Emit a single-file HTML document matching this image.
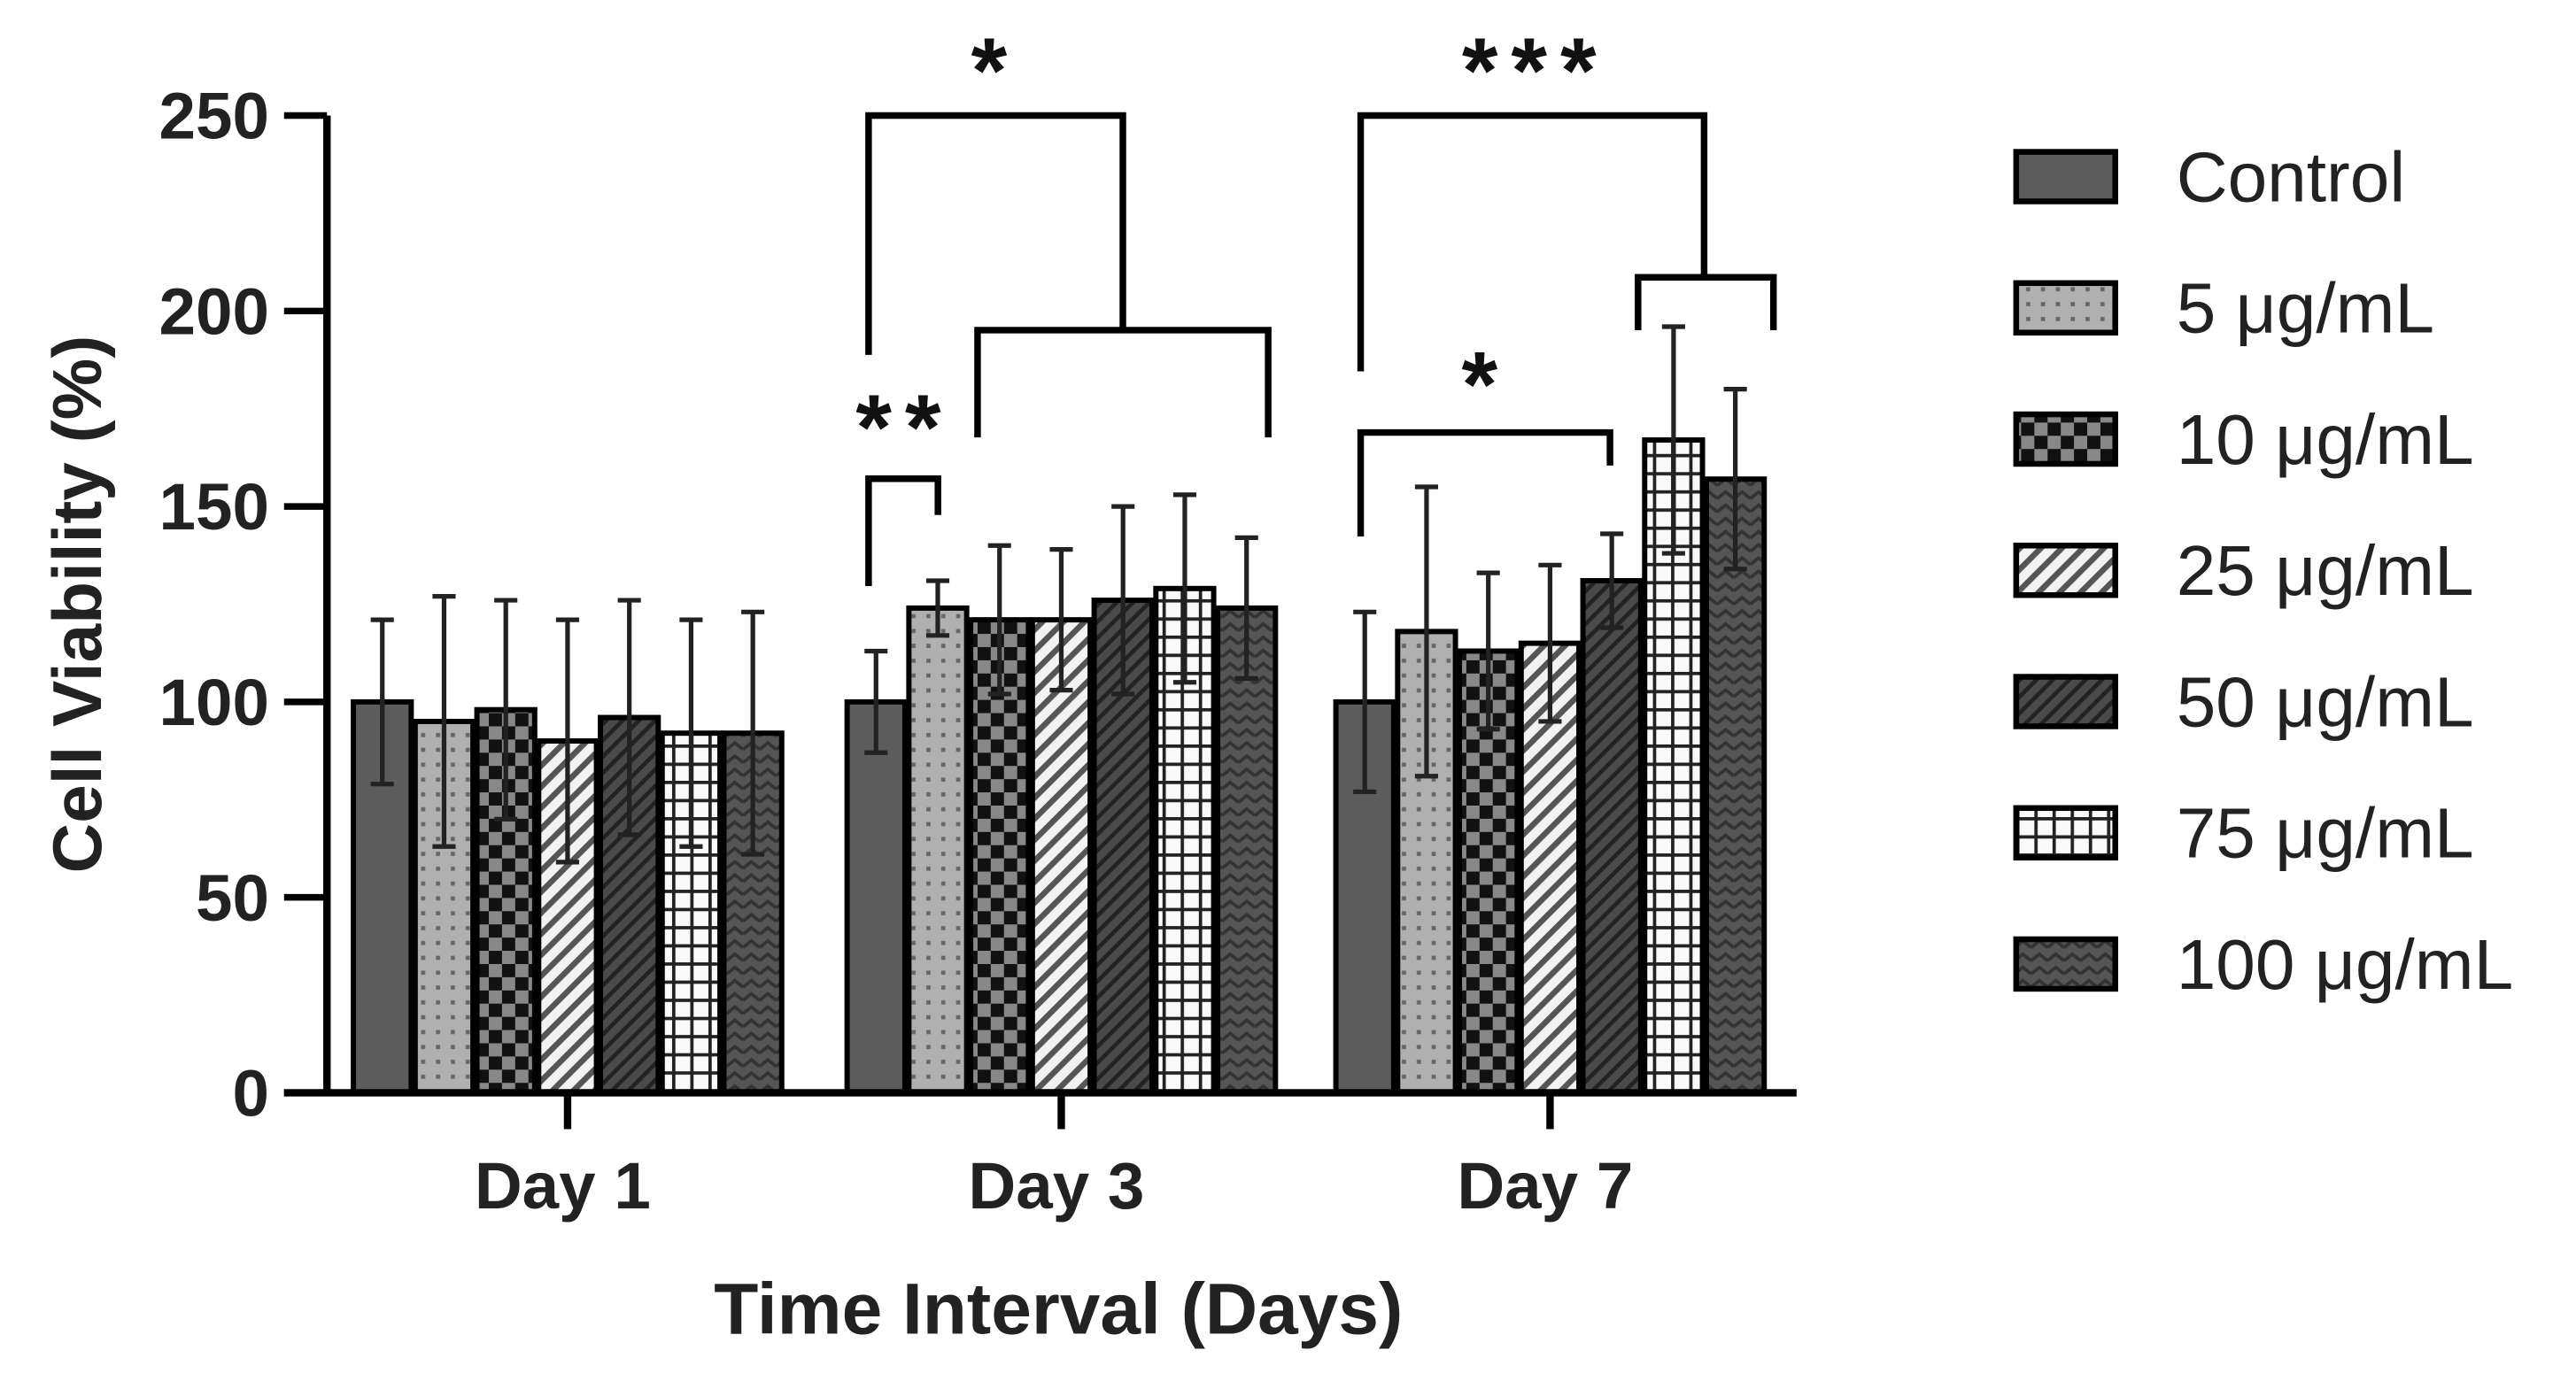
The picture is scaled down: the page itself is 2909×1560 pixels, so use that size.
<!DOCTYPE html>
<html><head><meta charset="utf-8"><style>
html,body{margin:0;padding:0;background:#fff;}
svg{display:block;}
text{font-family:"Liberation Sans",Arial,sans-serif;}
</style></head><body>
<svg id="chart" width="2909" height="1560" viewBox="0 0 1560 836.6" xmlns="http://www.w3.org/2000/svg">
<defs>
<pattern id="p0" width="8" height="8" patternUnits="userSpaceOnUse"><rect width="8" height="8" fill="#5c5c5c"/></pattern>
<pattern id="p1" width="9" height="9" patternUnits="userSpaceOnUse"><rect width="9" height="9" fill="#b0b0b0"/><rect x="3" y="3" width="2.5" height="2.5" fill="#666"/></pattern>
<pattern id="p2" width="16" height="16" patternUnits="userSpaceOnUse"><rect width="16" height="16" fill="#111"/><rect width="8" height="8" fill="#888"/><rect x="8" y="8" width="8" height="8" fill="#888"/></pattern>
<pattern id="p3" width="9" height="9" patternUnits="userSpaceOnUse" patternTransform="rotate(45)"><rect width="9" height="9" fill="#f2f2f2"/><rect width="3.5" height="9" fill="#555"/></pattern>
<pattern id="p4" width="7" height="7" patternUnits="userSpaceOnUse" patternTransform="rotate(45)"><rect width="7" height="7" fill="#4a4a4a"/><rect width="2.5" height="7" fill="#222"/></pattern>
<pattern id="p5" width="11" height="11" patternUnits="userSpaceOnUse"><rect width="11" height="11" fill="#fafafa"/><rect width="2" height="11" fill="#222"/><rect width="11" height="2" fill="#222"/></pattern>
<pattern id="p6" width="10" height="8" patternUnits="userSpaceOnUse"><rect width="10" height="8" fill="#555"/><path d="M0 6 L5 2 L10 6" stroke="#333" stroke-width="2" fill="none"/></pattern>
</defs>
<g id="plot"></g>
</svg>
<script>
const days = ["Day 1","Day 3","Day 7"];
const seriesNames = ["Control","5 μg/mL","10 μg/mL","25 μg/mL","50 μg/mL","75 μg/mL","100 μg/mL"];
const day1Means = [100,95,98,90,96,92,92];
const day1Err = [21,32,28,31,30,29,31];
const day3Means = [100,124,121,121,126,129,124];
const day3Err = [13,7,19,18,24,24,18];
const day7Means = [100,118,113,115,131,167,157];
const day7Err = [23,37,20,20,12,29,23];
const yTicks = [0,50,100,150,200,250];

const means=[day1Means,day3Means,day7Means], errs=[day1Err,day3Err,day7Err];
const NS="http://www.w3.org/2000/svg";
const g=document.getElementById('plot');
const Y0=662, Y250=70, AX=198;
const y=v=>Y0-(v/250)*(Y0-Y250);
const groupStart=[214,513,809], pitch=37.4, bw=35;
const barX=(d,s)=>groupStart[d]+s*pitch;
function el(t,a,txt){const e=document.createElementNS(NS,t);for(const k in a)e.setAttribute(k,a[k]);if(txt!==undefined)e.textContent=txt;g.appendChild(e);return e;}

for(let d=0;d<3;d++){for(let s=0;s<7;s++){
  const v=means[d][s], x=barX(d,s);
  const r=el('rect',{x:x,y:y(v),width:bw,height:Y0-y(v),fill:'url(#p'+s+')',stroke:'#000','stroke-width':3.2});
  
  
  const cx=x+bw/2, e=errs[d][s];
  const eb=el('path',{d:`M${cx} ${y(v-e)} V${y(v+e)} M${cx-7} ${y(v+e)} H${cx+7} M${cx-7} ${y(v-e)} H${cx+7}`,stroke:'#222','stroke-width':2.8,fill:'none'});
  
  
}}
const ax=el('path',{d:`M${AX} ${Y250} V${Y0} M172 ${Y0} H1088`,stroke:'#000','stroke-width':4.5,fill:'none'});


yTicks.forEach(t=>{
  const tk=el('path',{d:`M172 ${y(t)} H${AX}`,stroke:'#000','stroke-width':4});
  
  
  const tl=el('text',{x:163,y:y(t)+14,'text-anchor':'end','font-size':40,'font-weight':'bold',fill:'#222'},String(t));
  
  
});
days.forEach((dn,d)=>{
  const cx=groupStart[d]+(6*pitch+bw)/2;
  const tk=el('path',{d:`M${cx} ${Y0} V${Y0+22}`,stroke:'#000','stroke-width':4.5});
  
  
  const tl=el('text',{x:cx-3,y:732,'text-anchor':'middle','font-size':40,'font-weight':'bold',fill:'#222'},dn);
  
  
});
const xt=el('text',{x:641,y:808,'text-anchor':'middle','font-size':44,'font-weight':'bold',fill:'#222'},'Time Interval (Days)');


const yt=el('text',{x:0,y:0,transform:'translate(61,366) rotate(-90)','text-anchor':'middle','font-size':42,'font-weight':'bold',fill:'#222'},'Cell Viability (%)');


const br=[
 'M526 215 V70 H680 V200','M592 265 V200 H768 V265','M526 355 V290 H568 V312',
 'M824 225 V70 H1032 V168','M992 200 V168 H1074 V200','M824 325 V262 H975 V282'];
br.forEach(p=>{const b=el('path',{d:p,stroke:'#000','stroke-width':4,fill:'none'});
 
 });
[[603,62,'*'],[548,278,'**'],[930,62,'***'],[900,252,'*']].forEach(s=>{
 const t=el('text',{x:s[0],y:s[1],'text-anchor':'middle','font-size':56,'font-weight':'bold','letter-spacing':8,fill:'#111'},s[2]);
 
 });
seriesNames.forEach((n,i)=>{
  const ly=107+i*79.5;
  const r=el('rect',{x:1221,y:ly-15,width:60,height:30,fill:'url(#p'+i+')',stroke:'#000','stroke-width':3.5});
  
  
  const t=el('text',{x:1318,y:ly+15,'font-size':43,fill:'#222'},n);
  
  
});
</script>
</body></html>
